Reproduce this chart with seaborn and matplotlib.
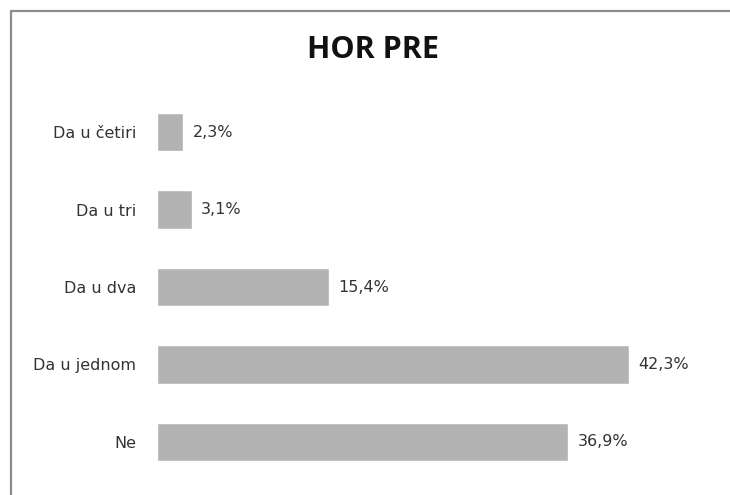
import pandas as pd
import matplotlib.pyplot as plt
import seaborn as sns
from matplotlib.lines import Line2D

# Data
categories = ['Da u četiri', 'Da u tri', 'Da u dva', 'Da u jednom', 'Ne']
values = [2.3, 3.1, 15.4, 42.3, 36.9]
value_labels = ['2,3%', '3,1%', '15,4%', '42,3%', '36,9%']

df = pd.DataFrame({'Odgovor': categories, 'Postotak': values})

sns.set_style('white')
plt.rcParams['font.family'] = ['DejaVu Sans']

fig = plt.figure(figsize=(7.3, 4.95), dpi=100)
ax = fig.add_axes([0.2151, 0.0288, 0.7636, 0.7828])

sns.barplot(data=df, x='Postotak', y='Odgovor', color='#b3b3b3',
            saturation=1, width=0.5, ax=ax)

ax.set_xlim(0, 50)
ax.set_ylim(4.5, -0.5)
ax.set_xlabel('')
ax.set_ylabel('')
ax.set_xticks([])
ax.tick_params(axis='y', length=0, pad=15, labelsize=11.5, labelcolor='#333333')
for s in ax.spines.values():
    s.set_visible(False)

# value labels next to the bars
for i, (v, lab) in enumerate(zip(values, value_labels)):
    ax.annotate(lab, xy=(v, i), xytext=(7, 0), textcoords='offset points',
                va='center', ha='left', fontsize=11.5, color='#333333')

fig.text(0.511, 0.898, 'HOR PRE', ha='center', va='center',
         fontsize=22, fontweight='bold', color='#111111',
         family=['Open Sans', 'DejaVu Sans'])

# frame lines on left and top
fig.add_artist(Line2D([10.5 / 730, 10.5 / 730], [0, 1 - 10.5 / 495],
                      transform=fig.transFigure, color='#8c8c8c', lw=1.6))
fig.add_artist(Line2D([10.5 / 730, 1], [1 - 10.5 / 495, 1 - 10.5 / 495],
                      transform=fig.transFigure, color='#8c8c8c', lw=1.6))

fig.savefig('out.png', dpi=100, facecolor='white')
